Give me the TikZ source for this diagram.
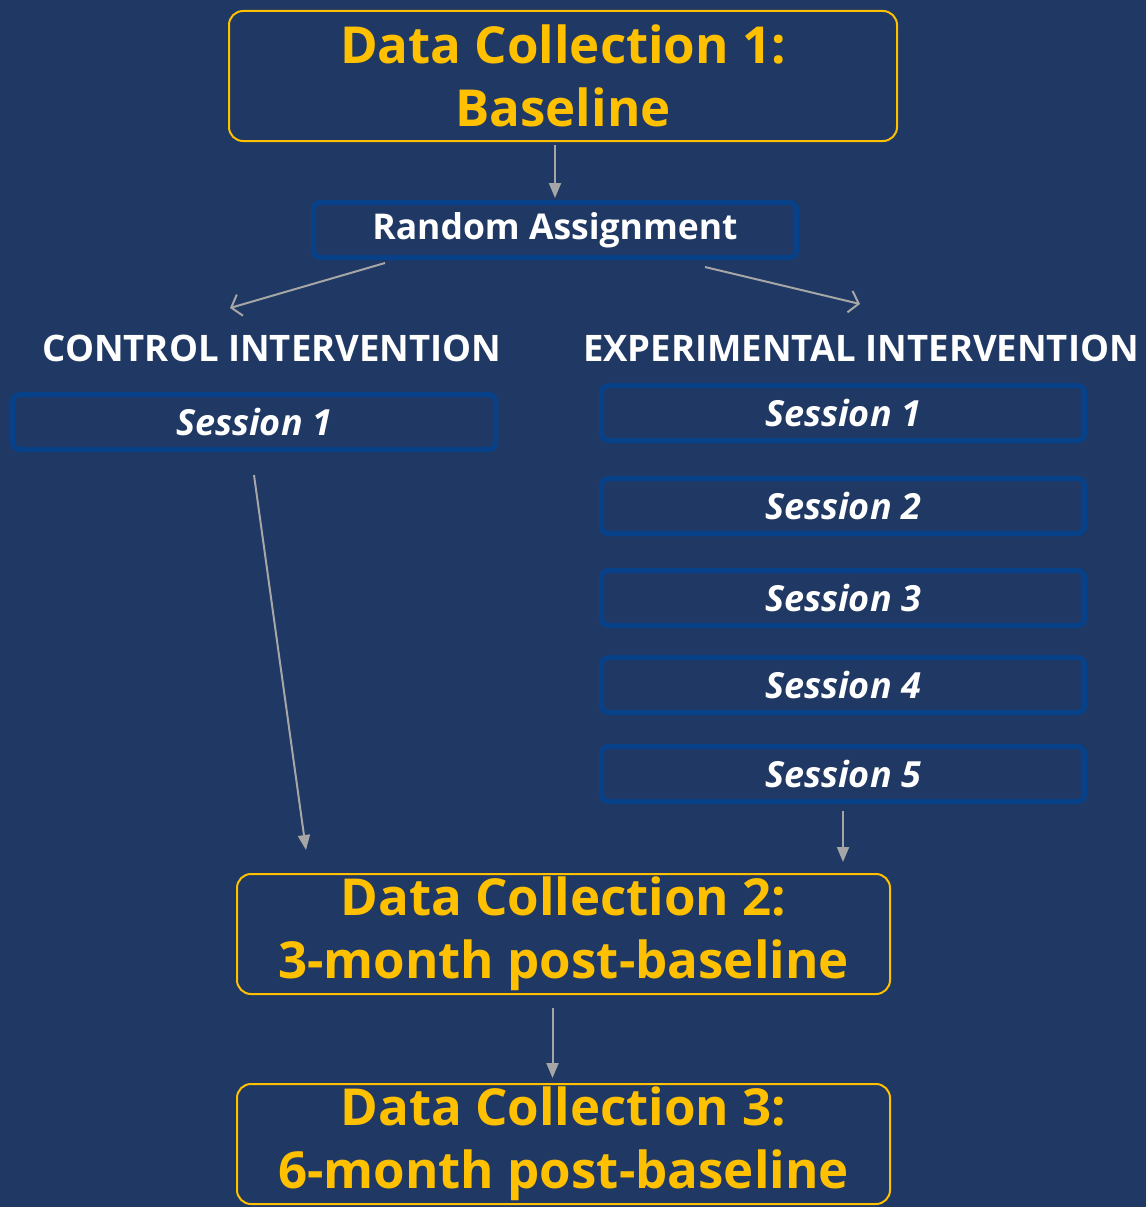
\documentclass[tikz,border=0pt]{standalone}
\usepackage{fontspec}
\setmainfont{Open Sans}
\usetikzlibrary{arrows.meta}
\definecolor{navy}{HTML}{1F3864}
\definecolor{gold}{HTML}{FFC000}
\definecolor{boxblue}{HTML}{06418A}
\definecolor{arrowgray}{HTML}{A6A6A6}
\tikzset{
  collect/.style={draw=gold,line width=2pt,rounded corners=14pt,text=gold,align=center,
    font=\bfseries\fontsize{51}{63}\selectfont,minimum width=668pt,minimum height=130pt,inner sep=0pt},
  stepbox/.style={draw=boxblue,line width=5pt,rounded corners=7pt,text=white,
    minimum width=483pt,minimum height=55pt,inner sep=0pt},
  session/.style={stepbox,font=\bfseries\itshape\fontsize{36}{40}\selectfont},
  arm/.style={text=white,font=\bfseries\fontsize{36.5}{40}\selectfont},
  flow/.style={draw=arrowgray,line width=2pt,-{Triangle[width=12pt,length=15pt]}},
  split/.style={draw=arrowgray,line width=2pt,-{Straight Barb[width=22pt,length=9pt]}}
}
\begin{document}
\begin{tikzpicture}[x=1pt,y=-1pt]
\fill[navy] (0,0) rectangle (1146,1207);
\node[collect] (dc1) at (563,76) {Data Collection 1:\\Baseline};
\node[stepbox,font=\bfseries\fontsize{35.5}{40}\selectfont] (ra) at (555,230) {Random Assignment};
\node[arm] (ctl) at (272,348) {CONTROL INTERVENTION};
\node[arm] (exp) at (861,348) {EXPERIMENTAL INTERVENTION};
\node[session] (c1) at (254,422) {Session 1};
\node[session] (e1) at (843,413) {Session 1};
\node[session] (e2) at (843,506) {Session 2};
\node[session] (e3) at (843,598) {Session 3};
\node[session] (e4) at (843,685) {Session 4};
\node[session] (e5) at (843,774) {Session 5};
\node[collect,minimum width=653pt,minimum height=120pt] (dc2) at (563.5,934) {Data Collection 2:\\3-month post-baseline};
\node[collect,minimum width=653pt,minimum height=120pt] (dc3) at (563.5,1144) {Data Collection 3:\\6-month post-baseline};
\coordinate (ctlin) at (230,308);
\coordinate (expin) at (860,304);
\coordinate (ctlout) at (306,850);
\draw[flow] ([yshift=-3pt]dc1.south -| ra.north) -- ([yshift=2pt]ra.north);
\draw[split] ([xshift=-170pt,yshift=-3pt]ra.south) -- (ctlin);
\draw[split] ([xshift=150pt,yshift=-7pt]ra.south) -- (expin);
\draw[flow] ([yshift=-23pt]c1.south) -- (ctlout);
\draw[flow] ([yshift=-7pt]e5.south) -- ([yshift=11pt]dc2.north -| e5.south);
\draw[flow] ([xshift=-11pt,yshift=-13pt]dc2.south) -- ([xshift=-11pt,yshift=5pt]dc3.north);
\end{tikzpicture}
\end{document}
